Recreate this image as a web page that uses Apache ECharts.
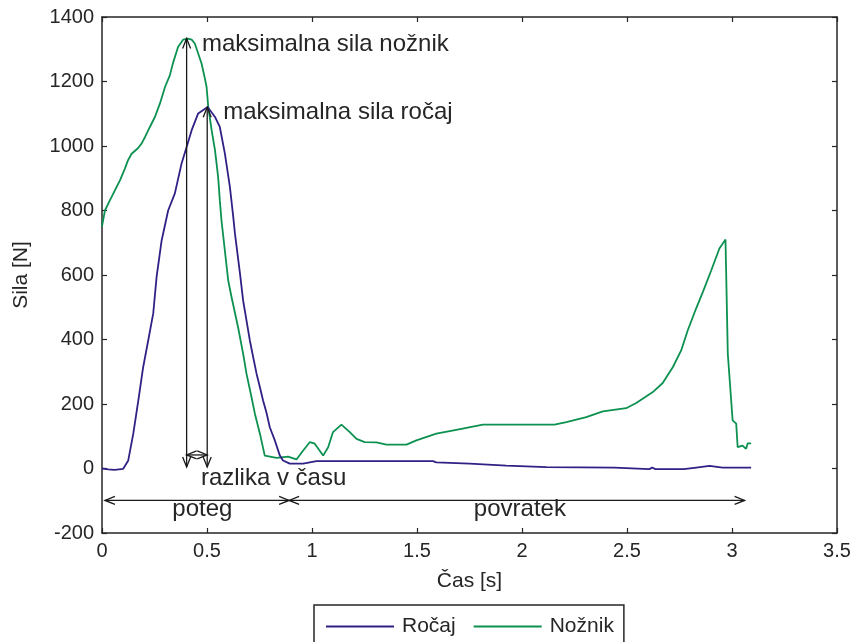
<!DOCTYPE html>
<html>
<head>
<meta charset="utf-8">
<title>Sila ročaj / nožnik</title>
<script src="https://cdn.jsdelivr.net/npm/echarts@6/dist/echarts.min.js"></script>
<style>
  html, body { margin: 0; padding: 0; background: #ffffff; }
  #chart { width: 856px; height: 642px; }
</style>
</head>
<body>
<div id="chart"></div>
<script>
// Ročaj (handle) force over time
const rocTime = [0, 0.03, 0.06, 0.101, 0.125, 0.149, 0.173, 0.196, 0.22, 0.244, 0.26, 0.284, 0.315, 0.347,
  0.379, 0.403, 0.427, 0.458, 0.503, 0.538, 0.561, 0.585, 0.609, 0.625, 0.633, 0.657, 0.672, 0.688,
  0.704, 0.72, 0.736, 0.752, 0.767, 0.784, 0.799, 0.823, 0.847, 0.862, 0.894, 0.958, 1.021, 1.576,
  1.592, 1.751, 1.925, 2.116, 2.44, 2.449, 2.607, 2.62, 2.635, 2.755, 2.76, 2.77, 2.83, 2.893,
  2.955, 3.091];
const rocForce = [0, -3, -4, -1, 25, 108, 211, 314, 397, 481, 594, 707, 800, 853,
  946, 997, 1049, 1101, 1121, 1090, 1059, 977, 873, 780, 729, 605, 521, 459,
  397, 345, 294, 252, 211, 171, 128, 87, 40, 25, 15, 15, 23, 23,
  19, 15, 9, 4, 3, -2, -2, 3, -2, -2, 3, -2, 3, 8,
  3, 3];

// Nožnik (footrest) force over time
const nozTime = [0, 0.014, 0.038, 0.062, 0.086, 0.109, 0.124, 0.141, 0.171, 0.189, 0.205, 0.228, 0.252,
  0.276, 0.3, 0.323, 0.338, 0.355, 0.362, 0.387, 0.408, 0.427, 0.442, 0.458, 0.474, 0.49, 0.498,
  0.506, 0.522, 0.538, 0.553, 0.561, 0.569, 0.585, 0.601, 0.617, 0.648, 0.672, 0.688, 0.712, 0.728,
  0.752, 0.775, 0.831, 0.886, 0.926, 0.958, 0.99, 1.013, 1.053, 1.077, 1.1, 1.14, 1.18, 1.212,
  1.251, 1.307, 1.354, 1.45, 1.497, 1.592, 1.687, 1.814, 2.116, 2.155, 2.211, 2.306, 2.385, 2.496,
  2.544, 2.623, 2.67, 2.718, 2.758, 2.789, 2.829, 2.861, 2.901, 2.94, 2.969, 2.98, 3.003, 3.02,
  3.027, 3.05, 3.067, 3.075, 3.091];
const nozForce = [751, 800, 832, 863, 894, 930, 956, 976, 993, 1008, 1028, 1059, 1090,
  1132, 1183, 1219, 1257, 1292, 1307, 1330, 1333, 1330, 1318, 1287, 1256, 1209, 1183,
  1121, 1049, 987, 904, 832, 769, 676, 583, 531, 438, 356, 294, 221, 170,
  108, 40, 33, 37, 28, 56, 82, 77, 40, 66, 113, 136, 113, 92,
  82, 81, 74, 74, 87, 108, 120, 136, 136, 136, 144, 159, 177, 187,
  203, 237, 265, 314, 366, 428, 496, 547, 614, 682, 710, 356, 149, 139,
  66, 71, 61, 78, 78];

// Axis ticks
const xTicks = [0, 0.5, 1, 1.5, 2, 2.5, 3, 3.5];
const yTicks = [-200, 0, 200, 400, 600, 800, 1000, 1200, 1400];

// Double-headed arrows in data units: [t1, F1, t2, F2]
const arrowSegments = [
  [0.403, 5, 0.403, 1333],
  [0.501, 5, 0.501, 1120],
  [0.403, 42, 0.501, 42],
  [0.014, -99, 0.891, -99],
  [0.891, -99, 3.06, -99]
];

// Annotation texts with anchor points in data units
const noteTexts = ['maksimalna sila nožnik', 'maksimalna sila ročaj', 'razlika v času', 'poteg', 'povratek'];
const notePoints = [[0.476, 1314], [0.577, 1105], [0.471, -32], [0.478, -127], [1.99, -127]];
const noteAlign = ['left', 'left', 'left', 'center', 'center'];

const seriesNames = ['Ročaj', 'Nožnik'];
const seriesColors = ['#2f2185', '#0c9150'];

const textColor = '#262626';
const fontFamily = '"Liberation Sans", Arial, Helvetica, sans-serif';

const chart = echarts.init(document.getElementById('chart'), null, { renderer: 'canvas' });

const baseAxis = {
  axisLine: { show: true, onZero: false, lineStyle: { color: textColor, width: 1.5 } },
  axisTick: { show: true, inside: true, length: 5, lineStyle: { color: textColor, width: 1.2 } },
  splitLine: { show: false }
};

const xMin = xTicks[0], xMax = xTicks[xTicks.length - 1];
const xStep = xTicks[1] - xTicks[0];
const yMin = yTicks[0], yMax = yTicks[yTicks.length - 1];
const yStep = yTicks[1] - yTicks[0];

function arrowHead(tip, from, len, half) {
  const dx = tip[0] - from[0], dy = tip[1] - from[1];
  const d = Math.sqrt(dx * dx + dy * dy) || 1;
  const ux = dx / d, uy = dy / d;
  const bx = tip[0] - ux * len, by = tip[1] - uy * len;
  return [[bx - uy * half, by + ux * half], tip, [bx + uy * half, by - ux * half]];
}

const plainNumber = v => String(v);

const option = {
  animation: false,
  backgroundColor: '#ffffff',
  textStyle: { fontFamily: fontFamily, color: textColor },
  grid: { left: 102, right: 19, top: 17, bottom: 109, containLabel: false },
  legend: {
    data: seriesNames.map(n => ({ name: n, icon: 'rect' })),
    left: 314,
    top: 605,
    orient: 'horizontal',
    itemWidth: 68,
    itemHeight: 2,
    itemGap: 18,
    padding: [11, 10, 14, 12],
    borderColor: textColor,
    borderWidth: 1.5,
    textStyle: { fontSize: 21, color: textColor, fontFamily: fontFamily, padding: [0, 0, 0, 3] }
  },
  xAxis: [
    Object.assign({}, baseAxis, {
      type: 'value', min: xMin, max: xMax, interval: xStep,
      name: 'Čas [s]', nameLocation: 'middle', nameGap: 38,
      nameTextStyle: { fontSize: 21, color: textColor, fontFamily: fontFamily },
      axisLabel: { fontSize: 20, color: textColor, margin: 8, fontFamily: fontFamily, formatter: plainNumber }
    }),
    Object.assign({}, baseAxis, {
      type: 'value', position: 'top', min: xMin, max: xMax, interval: xStep,
      axisLabel: { show: false }
    })
  ],
  yAxis: [
    Object.assign({}, baseAxis, {
      type: 'value', min: yMin, max: yMax, interval: yStep,
      name: 'Sila [N]', nameLocation: 'middle', nameGap: 70,
      nameTextStyle: { fontSize: 21, color: textColor, fontFamily: fontFamily },
      axisLabel: { fontSize: 20, color: textColor, margin: 8, fontFamily: fontFamily, formatter: plainNumber }
    }),
    Object.assign({}, baseAxis, {
      type: 'value', position: 'right', min: yMin, max: yMax, interval: yStep,
      axisLabel: { show: false }
    })
  ],
  series: [
    {
      name: seriesNames[0],
      type: 'line',
      data: rocTime.map((t, i) => [t, rocForce[i]]),
      symbol: 'none',
      lineStyle: { color: seriesColors[0], width: 1.8 },
      itemStyle: { color: seriesColors[0] },
      z: 3
    },
    {
      name: seriesNames[1],
      type: 'line',
      data: nozTime.map((t, i) => [t, nozForce[i]]),
      symbol: 'none',
      lineStyle: { color: seriesColors[1], width: 1.8 },
      itemStyle: { color: seriesColors[1] },
      z: 2
    },
    {
      // double-headed arrows
      type: 'custom',
      data: arrowSegments,
      clip: false,
      silent: true,
      z: 4,
      renderItem: function (params, api) {
        const a = api.coord([api.value(0), api.value(1)]);
        const b = api.coord([api.value(2), api.value(3)]);
        const style = { stroke: '#1a1a1a', lineWidth: 1.3, fill: null };
        return {
          type: 'group',
          children: [
            { type: 'line', shape: { x1: a[0], y1: a[1], x2: b[0], y2: b[1] }, style: style },
            { type: 'polyline', shape: { points: arrowHead(a, b, 10, 4) }, style: style },
            { type: 'polyline', shape: { points: arrowHead(b, a, 10, 4) }, style: style }
          ]
        };
      }
    },
    {
      // annotation texts
      type: 'custom',
      data: notePoints.map((p, i) => [p[0], p[1], i]),
      clip: false,
      silent: true,
      z: 5,
      renderItem: function (params, api) {
        const idx = api.value(2);
        const p = api.coord([api.value(0), api.value(1)]);
        return {
          type: 'text',
          x: p[0],
          y: p[1],
          style: {
            text: noteTexts[idx],
            fill: textColor,
            fontSize: 24,
            fontFamily: fontFamily,
            align: noteAlign[idx],
            verticalAlign: 'middle'
          }
        };
      }
    }
  ]
};

chart.setOption(option);
</script>
</body>
</html>
